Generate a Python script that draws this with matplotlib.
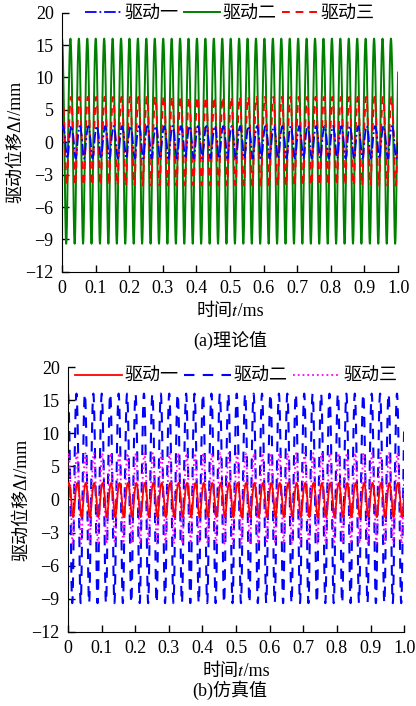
import numpy as np
import matplotlib
matplotlib.use("Agg")
import matplotlib.pyplot as plt

plt.rcParams['font.family'] = ['Liberation Serif', 'Noto Sans CJK SC', 'STIXGeneral']
plt.rcParams['axes.unicode_minus'] = True

# values
labels = ['驱动一', '驱动二', '驱动三']
cycles_per_ms = 39.85
# (a) theory
peak_a = [2.5, 16.0, 7.0]
trough_a = [-1.5, -9.4, -4.0]
phase_a = [0.12, 0.0, 0.06]   # fraction of a cycle
# (b) simulation
peak_b = [2.5, 16.0, 7.0]
trough_b = [-1.6, -9.4, -4.0]
phase_b = [0.10, 0.0, 0.05]

yticks = [-12, -9, -6, -3, 0, 5, 10, 15, 20]
xticks = [0, 0.1, 0.2, 0.3, 0.4, 0.5, 0.6, 0.7, 0.8, 0.9, 1.0]
xticklabels = ['0', '0.1', '0.2', '0.3', '0.4', '0.5', '0.6', '0.7', '0.8', '0.9', '1.0']

t = np.linspace(0, 1.0, 6001)


def wave(pk, tr, ph):
    mid = (pk + tr) / 2
    amp = (pk - tr) / 2
    return mid + amp * np.cos(2 * np.pi * (cycles_per_ms * t - ph))


# positive side 5 per step, negative side 3 per step
def fwd(y):
    y = np.asarray(y, dtype=float)
    return np.where(y >= 0, y / 5.0, y / 3.0)


def inv(v):
    v = np.asarray(v, dtype=float)
    return np.where(v >= 0, v * 5.0, v * 3.0)


def style_axes(ax):
    ax.set_yscale('function', functions=(fwd, inv))
    ax.set_xlim(0, 1.0)
    ax.set_ylim(-12, 20)
    ax.set_yticks(yticks)
    ax.set_yticklabels([str(v).replace('-', '\u2212') for v in yticks])
    ax.set_xticks(xticks)
    ax.set_xticklabels(xticklabels)
    ax.minorticks_off()
    ax.spines['top'].set_visible(False)
    ax.spines['right'].set_visible(False)
    ax.tick_params(direction='in', length=5, width=1, labelsize=13, pad=6)
    # 𝑡 and 𝑙 are the math-italic letters
    ax.set_xlabel('时间\U0001D461/ms', fontsize=13, labelpad=4)
    ax.set_ylabel('驱动位移Δ\U0001D459/mm', fontsize=13, labelpad=1)


fig = plt.figure(figsize=(4.16, 7.06), dpi=100)

# (a)
ax1 = fig.add_axes([0.149, 0.615, 0.808, 0.367])
ax1.plot(t, wave(peak_a[0], trough_a[0], phase_a[0]), color='#0000ff', lw=1.3,
         ls='-.', label=labels[0], zorder=3)
ax1.plot(t, wave(peak_a[1], trough_a[1], phase_a[1]), color='#008000', lw=1.4,
         ls='-', label=labels[1], zorder=2)
ax1.plot(t, wave(peak_a[2], trough_a[2], phase_a[2]), color='#ff0000', lw=1.4,
         ls=(0, (4, 3)), label=labels[2], zorder=2.5)
style_axes(ax1)
ax1.legend(loc='center', bbox_to_anchor=(0.5, 0.995), ncol=3, frameon=False,
           fontsize=13, handlelength=2.0, handletextpad=0.15, columnspacing=0.3,
           borderaxespad=0)
fig.text(0.553, 0.518, '(a)理论值', ha='center', va='center', fontsize=13)

# (b)
ax2 = fig.add_axes([0.1635, 0.105, 0.808, 0.375])
ax2.plot(t, wave(peak_b[0], trough_b[0], phase_b[0]), color='#ff0000', lw=1.3,
         ls='-', label=labels[0], zorder=4)
ax2.plot(t, wave(peak_b[1], trough_b[1], phase_b[1]), color='#0000ff', lw=1.5,
         ls=(0, (5, 4)), label=labels[1], zorder=2)
ax2.plot(t, wave(peak_b[2], trough_b[2], phase_b[2]), color='#ff00ff', lw=1.3,
         ls=':', label=labels[2], zorder=3)
style_axes(ax2)
ax2.legend(loc='center', bbox_to_anchor=(0.5, 0.965), ncol=3, frameon=False,
           fontsize=13, handlelength=2.6, handletextpad=0.15, columnspacing=0.3,
           borderaxespad=0)
fig.text(0.553, 0.022, '(b)仿真值', ha='center', va='center', fontsize=13)

fig.savefig('out.png', dpi=100)
